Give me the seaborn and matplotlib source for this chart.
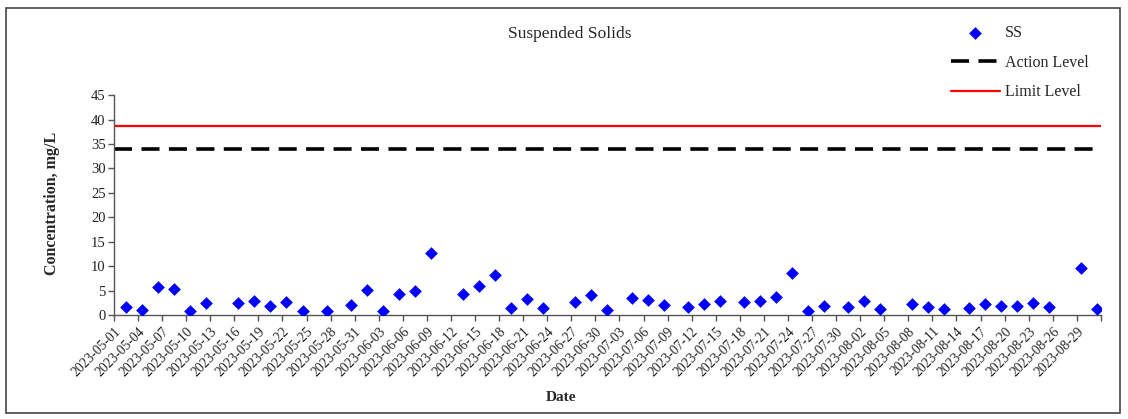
import matplotlib
matplotlib.use("Agg")
import matplotlib.pyplot as plt
from matplotlib.patches import Rectangle
import seaborn as sns
import pandas as pd

# Sampling dates and suspended solids readings (mg/L)
sample_dates = [
    "2023-05-02", "2023-05-04", "2023-05-06", "2023-05-08", "2023-05-10", "2023-05-12",
    "2023-05-16", "2023-05-18", "2023-05-20", "2023-05-22", "2023-05-24", "2023-05-27",
    "2023-05-30", "2023-06-01", "2023-06-03", "2023-06-05", "2023-06-07", "2023-06-09",
    "2023-06-13", "2023-06-15", "2023-06-17", "2023-06-19", "2023-06-21", "2023-06-23",
    "2023-06-27", "2023-06-29", "2023-07-01", "2023-07-04", "2023-07-06", "2023-07-08",
    "2023-07-11", "2023-07-13", "2023-07-15", "2023-07-18", "2023-07-20", "2023-07-22",
    "2023-07-24", "2023-07-26", "2023-07-28", "2023-07-31", "2023-08-02", "2023-08-04",
    "2023-08-08", "2023-08-10", "2023-08-12", "2023-08-15", "2023-08-17", "2023-08-19",
    "2023-08-21", "2023-08-23", "2023-08-25", "2023-08-29", "2023-08-31",
]
ss_values = [
    1.6, 1.0, 5.8, 5.3, 0.8, 2.4,
    2.4, 2.9, 1.8, 2.7, 0.9, 0.9,
    2.0, 5.2, 0.9, 4.4, 5.0, 12.8,
    4.4, 6.0, 8.1, 1.4, 3.2, 1.5,
    2.7, 4.1, 1.1, 3.4, 3.0, 2.1,
    1.6, 2.2, 2.9, 2.7, 2.9, 3.8,
    8.7, 0.9, 1.8, 1.6, 2.9, 1.3,
    2.3, 1.6, 1.2, 1.4, 2.2, 1.9,
    1.8, 2.4, 1.6, 9.6, 1.3,
]
action_level = 34
limit_level = 38.6

axis_start = "2023-05-01"
axis_end = "2023-09-01"

df = pd.DataFrame({
    # Excel-style date axis: each point sits in the middle of its day
    "Date": pd.to_datetime(sample_dates) + pd.Timedelta(hours=12),
    "SS": ss_values,
})

sns.set_theme(style="white")
plt.rcParams["font.family"] = ["Liberation Serif", "DejaVu Serif"]

fig = plt.figure(figsize=(11.28, 4.19), dpi=100)
ax = fig.add_axes([0.101, 0.248, 0.875, 0.525])

sns.scatterplot(data=df, x="Date", y="SS", marker="D", s=42, color="#0000ff",
                edgecolor="#0000ff", linewidth=0, ax=ax, label="SS", zorder=3)
ax.axhline(action_level, color="black", lw=2.6, dashes=(5, 2.6), label="Action Level")
ax.axhline(limit_level, color="#ff0000", lw=1.6, label="Limit Level")

ax.set_xlim(pd.Timestamp(axis_start), pd.Timestamp(axis_end))
ax.set_ylim(0, 45)
ax.set_yticks(range(0, 50, 5))

# ticks every 3 days; the axis end gets a tick but no label
ticks = pd.date_range(axis_start, axis_end, freq="3D")
ax.set_xticks(ticks)
labels = [d.strftime("%Y-%m-%d") for d in ticks]
labels[-1] = ""
ax.set_xticklabels(labels, rotation=45, ha="right", rotation_mode="anchor", fontsize=9.8)
ax.tick_params(axis="y", labelsize=10.5, colors="#222222")
ax.tick_params(axis="x", colors="#222222")
ax.tick_params(axis="both", which="both", direction="out", length=4, width=1,
               color="#555555", bottom=True, left=True, pad=2)
ax.tick_params(axis="x", pad=3)

for side in ["top", "right"]:
    ax.spines[side].set_visible(False)
for side in ["left", "bottom"]:
    ax.spines[side].set_color("#555555")
    ax.spines[side].set_linewidth(1)

ax.set_xlabel("")
ax.set_ylabel("")
fig.text(0.046, 0.515, "Concentration, mg/L", rotation=90, ha="center", va="center",
         fontsize=11.5, fontweight="bold")
fig.text(0.497, 0.052, "Date", ha="center", va="center", fontsize=11, fontweight="bold")
fig.text(0.505, 0.918, "Suspended Solids", ha="center", va="center", fontsize=12.5)

handles, leg_labels = ax.get_legend_handles_labels()
ax.get_legend().remove()
fig.legend(handles, leg_labels, loc="upper left", bbox_to_anchor=(0.837, 0.955),
           frameon=False, fontsize=11.5, labelspacing=0.85, handlelength=3.1,
           handletextpad=0.3, borderaxespad=0)

fig.patches.append(Rectangle((0.005, 0.015), 0.988, 0.965, transform=fig.transFigure,
                             fill=False, edgecolor="#444444", lw=1.2))

fig.savefig("out.png", dpi=100)
